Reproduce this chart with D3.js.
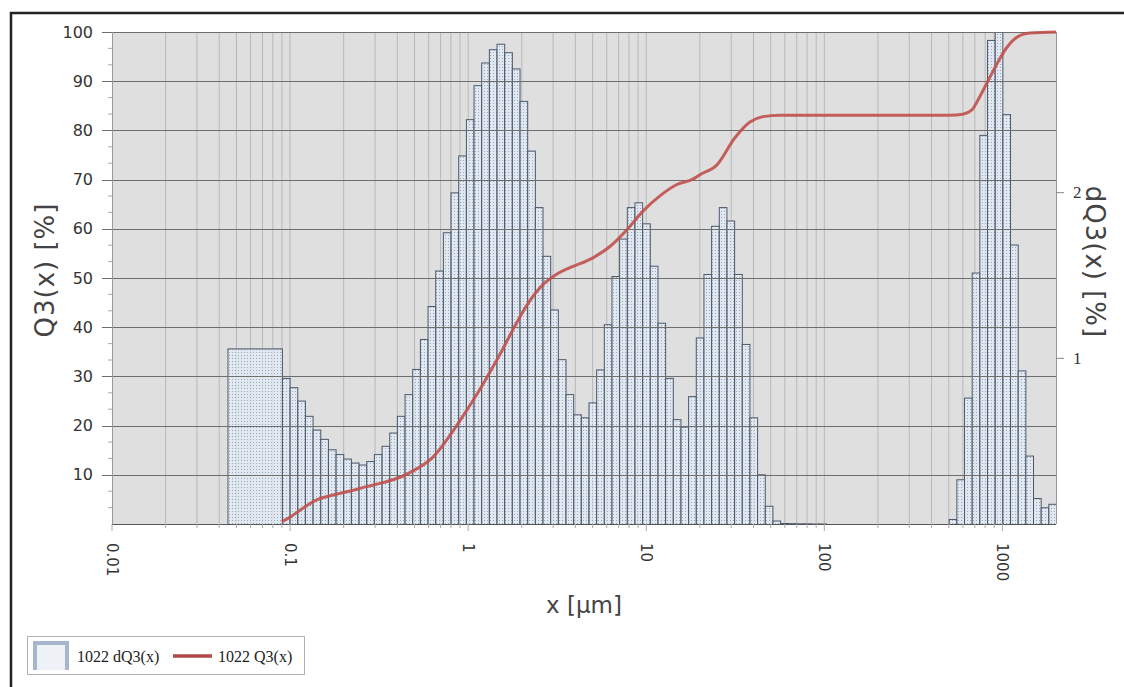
<!DOCTYPE html>
<html>
<head>
<meta charset="utf-8">
<script src="https://cdn.jsdelivr.net/npm/d3@7"></script>
<style>
html, body { margin: 0; padding: 0; background: #fff; }
svg { display: block; }
</style>
</head>
<body>
<svg id="chart" width="1124" height="687"></svg>
<script>
// size classes in µm: one wide extrapolated class, then 101 log-spaced classes
const wideClass = [0.0445, 0.09];
const wideClassDQ3 = 1.06;
const classStart = 0.09, classEnd = 2000, classCount = 101;

// dQ3(x) [%] per class
const dQ3 = [
  0.882, 0.826, 0.745, 0.653, 0.570, 0.514, 0.451, 0.422, 0.395, 0.371,
  0.359, 0.380, 0.422, 0.472, 0.552, 0.653, 0.784, 0.936, 1.117, 1.316,
  1.530, 1.761, 2.002, 2.225, 2.444, 2.649, 2.786, 2.866, 2.899, 2.848,
  2.750, 2.554, 2.254, 1.913, 1.619, 1.295, 0.995, 0.784, 0.662, 0.644,
  0.734, 0.933, 1.206, 1.497, 1.723, 1.913, 1.942, 1.815, 1.559, 1.215,
  0.882, 0.633, 0.588, 0.772, 1.126, 1.509, 1.800, 1.913, 1.832, 1.509,
  1.087, 0.644, 0.300, 0.110, 0.021, 0.006, 0.005, 0.004, 0.004, 0.003,
  0.003, 0, 0, 0, 0, 0, 0, 0, 0, 0,
  0, 0, 0, 0, 0, 0, 0, 0.030, 0.270, 0.763,
  1.518, 2.349, 2.922, 3.090, 2.474, 1.687, 0.927, 0.413, 0.157, 0.101,
  0.122
];

// cumulative Q3(x) [%]
const q3Size = [0.09, 0.1, 0.1137, 0.1411, 0.1741, 0.2169, 0.2692, 0.3323, 0.4142, 0.5139,
  0.6345, 0.79, 0.8995, 1.165, 1.509, 1.784, 2.138, 2.53, 3.151, 3.729,
  5.02, 6.254, 7.792, 9.583, 11.94, 14.87, 18.29, 20.02, 24.95, 31.48,
  38.22, 45.21, 56.33, 507.4, 600.1, 671.5, 747.5, 829, 927.8, 1056,
  1201, 1427, 2000];
const q3Value = [0.5, 1.4, 2.8, 4.9, 5.9, 6.7, 7.6, 8.4, 9.5, 11.2,
  13.6, 18.0, 21.0, 27.4, 34.5, 39.5, 44.5, 48.0, 50.8, 52.1,
  54.1, 56.4, 59.8, 63.6, 66.7, 69.0, 70.1, 71.0, 73.0, 78.5,
  81.7, 82.8, 83.1, 83.1, 83.3, 84.1, 86.9, 90.0, 93.4, 96.8,
  98.9, 99.8, 100];

const leftTicks = [10, 20, 30, 40, 50, 60, 70, 80, 90, 100];
const rightTicks = [1, 2];
const xTicks = [0.01, 0.1, 1, 10, 100, 1000];
const xTickLabels = ['0.01', '0.1', '1', '10', '100', '1000'];

const svg = d3.select('#chart');
const pl = 112, pr = 1056, pt = 32, pb = 524;

let x = d3.scaleLog().domain([0.01, 2000]).range([pl, pr]);
let y = d3.scaleLinear().domain([0, 100]).range([pb, pt]);
let y2 = d3.scaleLinear().domain([0, 2.97]).range([pb, pt]);

// class edges from the instrument's log spacing
let step = Math.log10(classEnd / classStart) / classCount;
let bins = dQ3.map((v, i) => ({
  x0: classStart * Math.pow(10, i * step),
  x1: classStart * Math.pow(10, (i + 1) * step),
  value: v
}));
bins.unshift({ x0: wideClass[0], x1: wideClass[1], value: wideClassDQ3 });

// outer frame
svg.append('path')
  .attr('d', 'M11,700 L11,13 L1140,13')
  .attr('fill', 'none').attr('stroke', '#222').attr('stroke-width', 2.5);

let defs = svg.append('defs');
let pat = defs.append('pattern')
  .attr('id', 'dots').attr('patternUnits', 'userSpaceOnUse')
  .attr('width', 3).attr('height', 3);
pat.append('rect').attr('width', 3).attr('height', 3).attr('fill', 'rgba(226,235,246,0.75)');
pat.append('rect').attr('x', 1).attr('y', 1).attr('width', 1).attr('height', 1).attr('fill', 'rgba(105,125,155,0.6)');
defs.append('clipPath').attr('id', 'plotclip')
  .append('rect').attr('x', pl).attr('y', pt).attr('width', pr - pl).attr('height', pb - pt);

// plot background
svg.append('rect')
  .attr('x', pl).attr('y', pt).attr('width', pr - pl).attr('height', pb - pt)
  .attr('fill', '#dfdfdf');

// vertical log grid
let vgrid = [];
for (let d = 0.01; d <= 1000; d *= 10) {
  for (let m = 1; m <= 9; m++) {
    let v = +(m * d).toPrecision(3);
    if (v > 0.01 && v < 2000) vgrid.push(v);
  }
}
svg.append('g').selectAll('line').data(vgrid).join('line')
  .attr('x1', d => x(d)).attr('x2', d => x(d))
  .attr('y1', pt).attr('y2', pb)
  .attr('stroke', '#b8b8b8').attr('stroke-width', 1);

// bars
svg.append('g').attr('clip-path', 'url(#plotclip)')
  .selectAll('rect').data(bins.filter(d => d.value > 0)).join('rect')
  .attr('x', d => x(d.x0) + 0.5)
  .attr('width', d => x(d.x1) - x(d.x0))
  .attr('y', d => y2(d.value) + 0.5)
  .attr('height', d => pb - y2(d.value))
  .attr('fill', 'url(#dots)')
  .attr('stroke', '#4a586a').attr('stroke-width', 1);

// horizontal grid + left ticks
svg.append('g').selectAll('line').data(leftTicks).join('line')
  .attr('x1', pl - 10).attr('x2', pr)
  .attr('y1', d => Math.round(y(d)) + 0.5).attr('y2', d => Math.round(y(d)) + 0.5)
  .attr('stroke', '#6e6e6e').attr('stroke-width', 1.2);
let minorY = d3.range(0, 100, 10 / 3).filter(v => v % 10 > 0.5);
svg.append('g').selectAll('line').data(minorY).join('line')
  .attr('x1', pl - 4).attr('x2', pl)
  .attr('y1', d => y(d)).attr('y2', d => y(d))
  .attr('stroke', '#aaa').attr('stroke-width', 1);

// plot edges
svg.append('line').attr('x1', pl + 0.5).attr('x2', pl + 0.5).attr('y1', pt).attr('y2', pb)
  .attr('stroke', '#999');
svg.append('line').attr('x1', pr + 0.5).attr('x2', pr + 0.5).attr('y1', pt).attr('y2', pb)
  .attr('stroke', '#999');
svg.append('line').attr('x1', pl).attr('x2', pr).attr('y1', pb + 0.5).attr('y2', pb + 0.5)
  .attr('stroke', '#555').attr('stroke-width', 1.2);

// x ticks below baseline
svg.append('g').selectAll('line').data(vgrid.concat([0.01])).join('line')
  .attr('x1', d => x(d)).attr('x2', d => x(d))
  .attr('y1', pb).attr('y2', d => xTicks.includes(d) ? pb + 7 : pb + 4)
  .attr('stroke', '#aaa');

// Q3 curve
let line = d3.line().x(d => x(d[0])).y(d => y(d[1])).curve(d3.curveMonotoneX);
svg.append('path')
  .datum(q3Size.map((s, i) => [s, q3Value[i]]))
  .attr('d', line)
  .attr('fill', 'none').attr('stroke', '#c0504d').attr('stroke-width', 3)
  .attr('stroke-opacity', 0.9).attr('stroke-linejoin', 'round');

// left labels
svg.append('g').selectAll('text').data(leftTicks).join('text')
  .attr('x', 93).attr('y', d => y(d))
  .attr('text-anchor', 'end').attr('dominant-baseline', 'central')
  .attr('font-family', 'DejaVu Sans').attr('font-size', 16).attr('fill', '#333')
  .text(d => d);

// right ticks + labels
svg.append('g').selectAll('line').data(rightTicks).join('line')
  .attr('x1', pr).attr('x2', pr + 8)
  .attr('y1', d => y2(d)).attr('y2', d => y2(d))
  .attr('stroke', '#888');
svg.append('g').selectAll('text').data(rightTicks).join('text')
  .attr('x', pr + 17).attr('y', d => y2(d))
  .attr('dominant-baseline', 'central')
  .attr('font-family', 'Liberation Serif').attr('font-size', 17).attr('fill', '#333')
  .text(d => d);

// x labels, rotated
svg.append('g').selectAll('text').data(xTicks).join('text')
  .attr('transform', d => `translate(${x(d)},543) rotate(90)`)
  .attr('dominant-baseline', 'central')
  .attr('font-family', 'DejaVu Sans').attr('font-size', 15).attr('fill', '#333')
  .text((d, i) => xTickLabels[i]);

// axis titles
svg.append('text').attr('transform', 'translate(45,270) rotate(-90)')
  .attr('text-anchor', 'middle').attr('dominant-baseline', 'central')
  .attr('font-family', 'DejaVu Sans').attr('font-size', 26).attr('letter-spacing', 1)
  .attr('fill', '#444')
  .text('Q3(x) [%]');
svg.append('text').attr('transform', 'translate(1095,262) rotate(90)')
  .attr('text-anchor', 'middle').attr('dominant-baseline', 'central')
  .attr('font-family', 'DejaVu Sans').attr('font-size', 26).attr('letter-spacing', 1)
  .attr('fill', '#444')
  .text('dQ3(x) [%]');
svg.append('text').attr('x', 584).attr('y', 605)
  .attr('text-anchor', 'middle').attr('dominant-baseline', 'central')
  .attr('font-family', 'DejaVu Sans').attr('font-size', 23).attr('fill', '#444')
  .text('x [µm]');

// legend
let lg = svg.append('g');
lg.append('rect').attr('x', 27.5).attr('y', 636.5).attr('width', 277).attr('height', 38)
  .attr('fill', '#fff').attr('stroke', '#b0b0b0');
lg.append('rect').attr('x', 33).attr('y', 641).attr('width', 36).attr('height', 29)
  .attr('fill', '#eef2f7');
lg.append('path').attr('d', 'M35,670 L35,643 L67,643 L67,670')
  .attr('fill', 'none').attr('stroke', '#a6b7cd').attr('stroke-width', 4);
lg.append('text').attr('x', 77).attr('y', 656).attr('dominant-baseline', 'central')
  .attr('font-family', 'Liberation Serif').attr('font-size', 16).attr('fill', '#222')
  .text('1022 dQ3(x)');
lg.append('line').attr('x1', 173).attr('x2', 212).attr('y1', 656).attr('y2', 656)
  .attr('stroke', '#b5484a').attr('stroke-width', 3.5);
lg.append('text').attr('x', 218).attr('y', 656).attr('dominant-baseline', 'central')
  .attr('font-family', 'Liberation Serif').attr('font-size', 16).attr('fill', '#222')
  .text('1022 Q3(x)');
</script>
</body>
</html>
